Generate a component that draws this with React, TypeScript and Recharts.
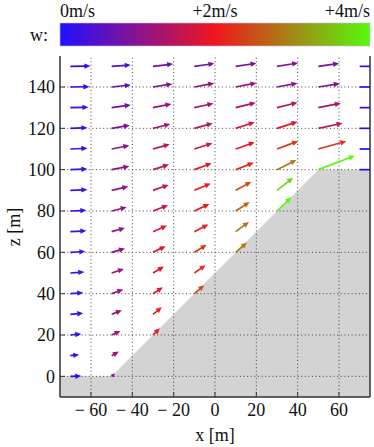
import React from 'react';
import { ComposedChart, Area, XAxis, YAxis, ReferenceLine } from 'recharts';

const xTicks = [-60, -40, -20, 0, 20, 40, 60];
const zTicks = [0, 20, 40, 60, 80, 100, 120, 140];

// hill profile
const groundX = [-75, -50, 50, 75];
const groundZ = [0, 0, 100, 100];

// arrow grid: columns at colX, rows from z=150 going down
const colX = [-70, -50, -30, -10, 10, 30, 50, 70];
const rowZ = [150, 140, 130, 120, 110, 100, 90, 80, 70, 60, 50, 40, 30, 20, 10, 0];

// horizontal wind u [m/s], per column, top row first
const uCols = [
  [5.9, 5.6, 5.3, 5.0, 5.0, 5.0, 5.0, 4.7, 4.7, 4.4, 4.1, 3.8, 3.8, 3.2, 2.6, 3.2],
  [5.6, 5.6, 5.6, 5.3, 5.2, 5.2, 4.9, 4.4, 3.9, 3.9, 3.6, 3.4, 3.0, 2.6, 2.1, 1.0],
  [5.9, 5.7, 5.4, 5.1, 4.9, 4.7, 4.6, 4.4, 4.1, 3.7, 3.2, 2.9, 2.6, 2.0],
  [5.9, 5.8, 5.6, 5.4, 5.3, 5.1, 4.8, 4.4, 4.1, 3.6, 3.3, 2.9],
  [6.1, 6.1, 5.9, 5.6, 5.6, 5.3, 4.6, 4.1, 3.9, 3.3],
  [6.2, 6.0, 6.0, 6.0, 6.2, 5.7, 4.7, 4.2],
  [6.1, 6.3, 6.6, 7.1, 8.2, 10.7],
  [6.0, 6.0, 6.0, 6.0, 6.0, 6.0],
];

// vertical wind w [m/s], same layout
const wCols = [
  [0.1, 0.1, 0.15, 0.2, 0.2, 0.2, 0.2, 0.2, 0.25, 0.25, 0.3, 0.3, 0.3, 0.3, 0.3, 0.1],
  [0.4, 0.6, 0.8, 0.9, 1.0, 1.0, 1.1, 1.1, 1.1, 1.1, 1.2, 1.2, 1.2, 1.2, 1.2, 0.9],
  [0.7, 0.9, 1.1, 1.25, 1.4, 1.5, 1.6, 1.7, 1.8, 1.8, 1.9, 1.9, 2.1, 2.0],
  [0.8, 1.1, 1.25, 1.5, 1.7, 1.9, 2.0, 2.05, 2.1, 2.2, 2.3, 2.5],
  [0.9, 1.2, 1.45, 1.8, 1.95, 2.1, 2.5, 2.65, 2.85, 2.9],
  [1.0, 1.1, 1.5, 1.9, 2.3, 2.85, 3.7, 4.0],
  [0.85, 1.0, 1.3, 1.5, 2.3, 4.1],
  [0, 0, 0, 0, 0, 0],
];

const ARROW_SCALE = 1.65; // metres of plot per m/s
const FONT = 'Liberation Serif, DejaVu Serif, serif';
const FS = 18;

const BLUE = [32, 16, 255];
const RED = [240, 22, 30];
const GREEN = [85, 250, 12];

function colorFor(w: number) {
  const mix = (a: number[], b: number[], t: number) =>
    `rgb(${a.map((v, i) => Math.round(v + (b[i] - v) * t)).join(',')})`;
  const c = Math.max(0, Math.min(4, w));
  return c <= 2 ? mix(BLUE, RED, c / 2) : mix(RED, GREEN, (c - 2) / 2);
}

function Arrow(props: any) {
  const { x1, y1, x2, y2, clipPath, color } = props;
  const dx = x2 - x1;
  const dy = y2 - y1;
  const len = Math.hypot(dx, dy);
  if (!len) return <g />;
  const ux = dx / len;
  const uy = dy / len;
  const hl = Math.min(6, len * 0.9);
  const hw = Math.min(2.7, hl * 0.45);
  const bx = x2 - ux * hl;
  const by = y2 - uy * hl;
  return (
    <g clipPath={clipPath}>
      <line x1={x1} y1={y1} x2={bx + ux} y2={by + uy} stroke={color} strokeWidth={1.7} />
      <polygon
        points={`${x2},${y2} ${bx - uy * hw},${by + ux * hw} ${bx + uy * hw},${by - ux * hw}`}
        fill={color}
      />
    </g>
  );
}

const ground = groundX.map((x, i) => ({ x, z: groundZ[i] }));

const arrows = colX.flatMap((x, i) =>
  uCols[i].map((u, j) => ({ x, z: rowZ[j], u, w: wCols[i][j] }))
);

const fmtX = (v: number) => (v < 0 ? `\u2212 ${Math.abs(v)}` : `${v}`);

export default function App() {
  const tickStyle = { fontSize: FS, fill: '#111', style: { fontFamily: FONT } };
  const txt = { fontFamily: FONT, fontSize: FS };
  return (
    <div
      style={{
        position: 'absolute',
        left: 0,
        top: 0,
        width: 374,
        height: 447,
        background: '#fff',
        fontFamily: FONT,
      }}
    >
      <ComposedChart
        width={374}
        height={447}
        data={ground}
        margin={{ top: 56, right: 0, bottom: 0, left: 0 }}
        style={{ fontFamily: FONT }}
      >
        <XAxis
          dataKey="x"
          type="number"
          domain={[-75, 75]}
          ticks={xTicks}
          allowDataOverflow
          height={50}
          tickSize={-5}
          tickMargin={11}
          tickFormatter={fmtX}
          tick={tickStyle}
          stroke="#333"
          axisLine={{ stroke: '#333', strokeWidth: 1.5 }}
          tickLine={{ stroke: '#333' }}
        />
        <XAxis
          xAxisId="top"
          orientation="top"
          type="number"
          domain={[-75, 75]}
          ticks={xTicks}
          allowDataOverflow
          height={0}
          tickSize={-5}
          tick={false}
          axisLine={{ stroke: '#333', strokeWidth: 1.5 }}
          tickLine={{ stroke: '#333' }}
        />
        <YAxis
          type="number"
          domain={[-10, 155]}
          ticks={zTicks}
          allowDataOverflow
          width={60}
          tickSize={-5}
          tickMargin={10}
          tick={tickStyle}
          axisLine={{ stroke: '#333', strokeWidth: 1.5 }}
          tickLine={{ stroke: '#333' }}
        />
        <YAxis
          yAxisId="right"
          orientation="right"
          type="number"
          domain={[-10, 155]}
          ticks={zTicks}
          allowDataOverflow
          width={4}
          tickSize={-5}
          tick={false}
          axisLine={{ stroke: '#333', strokeWidth: 1.5 }}
          tickLine={{ stroke: '#333' }}
        />
        <Area
          dataKey="z"
          type="linear"
          baseValue="dataMin"
          stroke="none"
          fill="#d3d3d3"
          fillOpacity={1}
          isAnimationActive={false}
        />
        {xTicks.map((v) => (
          <ReferenceLine key={`gx${v}`} x={v} stroke="#444" strokeDasharray="1 2.6" />
        ))}
        {zTicks.map((v) => (
          <ReferenceLine key={`gz${v}`} y={v} stroke="#444" strokeDasharray="1 2.6" />
        ))}
        {arrows.map((a) => (
          <ReferenceLine
            key={`a${a.x}_${a.z}`}
            segment={[
              { x: a.x, y: a.z },
              { x: a.x + a.u * ARROW_SCALE, y: a.z + a.w * ARROW_SCALE },
            ]}
            ifOverflow="hidden"
            shape={(p: any) => <Arrow {...p} color={colorFor(a.w)} />}
          />
        ))}
      </ComposedChart>
      <svg
        width={374}
        height={447}
        style={{ position: 'absolute', left: 0, top: 0, pointerEvents: 'none', fontFamily: FONT }}
        fontSize={FS}
        fill="#111"
      >
        <defs>
          <linearGradient id="wbar" x1="0" x2="1" y1="0" y2="0">
            <stop offset="0%" stopColor={colorFor(0)} />
            <stop offset="50%" stopColor={colorFor(2)} />
            <stop offset="100%" stopColor={colorFor(4)} />
          </linearGradient>
        </defs>
        <text x={60} y={17} style={txt}>0m/s</text>
        <text x={215} y={17} textAnchor="middle" style={txt}>+2m/s</text>
        <text x={370} y={17} textAnchor="end" style={txt}>+4m/s</text>
        <text x={48} y={41} textAnchor="end" style={txt}>w:</text>
        <rect x={60} y={23} width={310} height={23} fill="url(#wbar)" stroke="#c8b8f0" strokeWidth={0.6} />
        <text x={215} y={441} textAnchor="middle" style={txt}>x [m]</text>
        <text x={0} y={0} textAnchor="middle" transform="translate(20 227) rotate(-90)" style={txt}>
          z [m]
        </text>
      </svg>
    </div>
  );
}
